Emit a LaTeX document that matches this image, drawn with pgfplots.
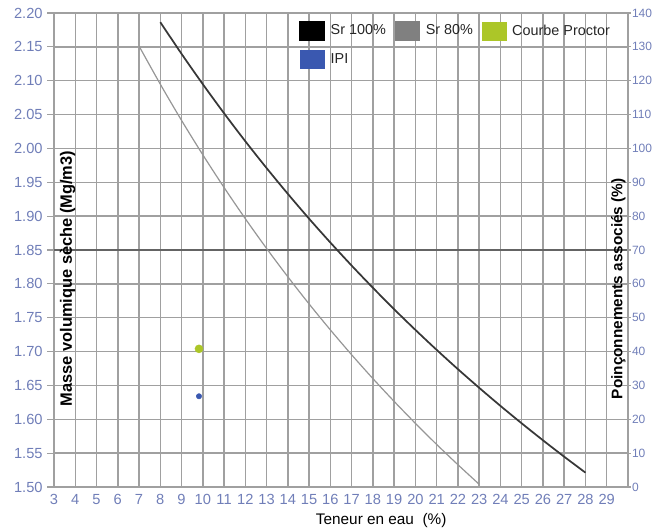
\documentclass[border=0pt]{standalone}
\usepackage{fontspec}
\setmainfont{Liberation Sans}
\usepackage{pgfplots}
\pgfplotsset{compat=1.18}
\definecolor{ticklab}{RGB}{112,126,184}
\definecolor{gridc}{RGB}{160,160,160}
\definecolor{refline}{RGB}{100,100,100}
\definecolor{srfull}{RGB}{55,55,55}
\definecolor{srpart}{RGB}{150,150,150}
\definecolor{proctor}{RGB}{172,198,40}
\definecolor{ipi}{RGB}{58,88,176}
\begin{document}
\begin{tikzpicture}
\begin{axis}[
  at={(0,0)}, anchor=south west,
  width=430.5pt, height=355.5pt, scale only axis,
  xmin=3, xmax=30, ymin=1.5, ymax=2.2,
  xtick={3,4,5,6,7,8,9,10,11,12,13,14,15,16,17,18,19,20,21,22,23,24,25,26,27,28,29},
  ytick={1.50,1.55,1.60,1.65,1.70,1.75,1.80,1.85,1.90,1.95,2.00,2.05,2.10,2.15,2.20},
  ytick pos=left,
  grid=major,
  major grid style={gridc, line width=1.1pt},
  axis line style={gridc, line width=1.1pt},
  tick align=outside, major tick length=5pt,
  xtick style={draw=none},
  ytick style={gridc, line width=0.8pt},
  yticklabel style={font=\fontsize{11}{13}\selectfont, text=ticklab, /pgf/number format/.cd, fixed, fixed zerofill, precision=2, assume math mode=true},
  xticklabel style={font=\fontsize{11}{13}\selectfont, text=ticklab, /pgf/number format/assume math mode=true, yshift=3pt},
  xlabel={Teneur en eau\ \ (\%)},
  xlabel style={font=\fontsize{11.5}{13}\selectfont, at={(axis description cs:0.57,-0.07)}, anchor=center},
  ylabel={Masse volumique sèche (Mg/m3)},
  ylabel style={font=\bfseries\fontsize{12.3}{14}\selectfont, at={(axis description cs:0.0235,0.44)}, anchor=center},
  legend columns=3,
  legend style={at={(rel axis cs:0.4268,0.983)}, anchor=north west, draw=none, fill=none,
    inner sep=0pt, outer sep=0pt, font=\fontsize{10.8}{12}\selectfont, text=black!85,
    nodes={inner sep=1.5pt}, row sep=7pt,
    /tikz/every odd column/.append style={column sep=3pt},
    /tikz/every even column/.append style={column sep=5pt}},
  legend cell align=left,
]
\addplot[forget plot, refline, line width=1.5pt] coordinates {(3,1.85) (30,1.85)};
\addplot[srfull, line width=1.3pt, smooth,
  legend image code/.code={\fill[black] (0pt,-6.75pt) rectangle (18pt,6.75pt);}]
  coordinates {
  (8,2.1865) (9,2.1397) (10,2.0949) (11,2.0519) (12,2.0106) (13,1.9710) (14,1.9329)
  (15,1.8962) (16,1.8610) (17,1.8270) (18,1.7942) (19,1.7625) (20,1.7320) (21,1.7025)
  (22,1.6740) (23,1.6465) (24,1.6198) (25,1.5940) (26,1.5690) (27,1.5447) (28,1.5212)};
\addlegendentry{Sr 100\%}
\addplot[srpart, line width=0.9pt, smooth,
  legend image code/.code={\fill[gray] (0pt,-6.75pt) rectangle (18pt,6.75pt);}]
  coordinates {
  (7,2.1512) (8,2.0949) (9,2.0414) (10,1.9906) (11,1.9423) (12,1.8962) (13,1.8523)
  (14,1.8104) (15,1.7703) (16,1.7320) (17,1.6953) (18,1.6601) (19,1.6264) (20,1.5940)
  (21,1.5628) (22,1.5329) (23,1.5040)};
\addlegendentry{Sr 80\%}
\addplot[only marks, mark=*, mark size=3pt, color=proctor,
  legend image code/.code={\fill[proctor] (0pt,-6.75pt) rectangle (18pt,6.75pt);}]
  coordinates {(9.82,1.704)};
\addlegendentry{Courbe Proctor}
\addplot[only marks, mark=*, mark size=2pt, color=ipi,
  legend image code/.code={\fill[ipi] (0pt,-6.75pt) rectangle (18pt,6.75pt);}]
  coordinates {(9.82,1.634)};
\addlegendentry{IPI}
\end{axis}
\begin{axis}[
  at={(0,0)}, anchor=south west,
  width=430.5pt, height=355.5pt, scale only axis,
  xmin=3, xmax=30, ymin=0, ymax=140,
  axis x line=none, axis y line*=right,
  ytick={0,10,20,30,40,50,60,70,80,90,100,110,120,130,140},
  axis line style={gridc, line width=1.1pt},
  tick align=outside, major tick length=2pt,
  ytick style={gridc, line width=0.8pt},
  yticklabel style={font=\fontsize{9}{10}\selectfont, text=ticklab, /pgf/number format/assume math mode=true, xshift=-2.5pt},
  ylabel={Poinçonnements associés (\%)},
  ylabel style={font=\bfseries\fontsize{11.5}{13}\selectfont, at={(axis description cs:0.983,0.418)}, anchor=center},
]
\end{axis}
\pgfresetboundingbox
\path[use as bounding box] (-40.5pt,-30.75pt) rectangle (449.25pt,365.25pt);
\end{tikzpicture}
\end{document}
